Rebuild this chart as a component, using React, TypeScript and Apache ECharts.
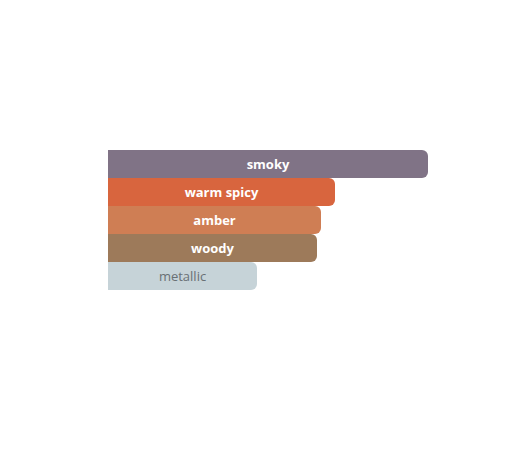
import React, { useEffect, useRef } from "react";
import * as echarts from "echarts";

const categories = ["smoky", "warm spicy", "amber", "woody", "metallic"];
const values = [32, 22.7, 21.3, 20.9, 14.9];
const colors = ["#807386", "#d8653e", "#cf7e54", "#9d7a5a", "#c6d3d8"];
const labelColors = ["#ffffff", "#ffffff", "#ffffff", "#ffffff", "#697074"];
const labelWeights = ["bold", "bold", "bold", "bold", "normal"];

export default function App() {
  const ref = useRef<HTMLDivElement>(null);
  useEffect(() => {
    if (!ref.current) return;
    const chart = echarts.init(ref.current, undefined, { renderer: "svg" });
    chart.setOption({
      animation: false,
      grid: { left: 100, top: 142, width: 400, height: 140, containLabel: false },
      xAxis: { type: "value", min: 0, max: 40, show: false },
      yAxis: {
        type: "category",
        data: categories,
        inverse: true,
        show: false,
      },
      series: [
        {
          type: "bar",
          barCategoryGap: 0,
          data: values.map((v, i) => ({
            value: v,
            itemStyle: { color: colors[i], borderRadius: [0, 6, 6, 0] },
            label: { color: labelColors[i], fontWeight: labelWeights[i] },
          })),
          label: {
            show: true,
            position: "inside",
            formatter: "{b}",
            fontSize: 13,
            fontFamily: "'Open Sans', sans-serif",
          },
        },
      ],
    });
    return () => chart.dispose();
  }, []);
  return <div ref={ref} style={{ width: 507, height: 446 }} />;
}
